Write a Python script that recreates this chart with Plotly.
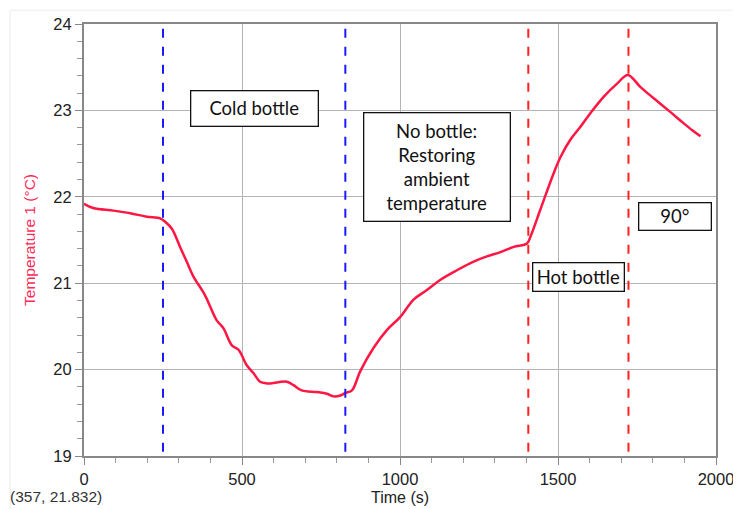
import plotly.graph_objects as go

# Time (s) and temperature (°C)
time_s = [0, 29, 93, 146, 198, 241, 257, 278, 304, 325, 346, 383, 420, 441, 468, 489, 515, 536, 557,
          579, 589, 642, 663, 689, 737, 769, 790, 811, 827, 848, 874, 916, 959, 1001, 1043, 1085,
          1128, 1180, 1233, 1275, 1318, 1360, 1402, 1413, 1444, 1486, 1508, 1539, 1571, 1603, 1645,
          1687, 1721, 1761, 1803, 1856, 1898, 1925, 1951]
temp_c = [21.92, 21.87, 21.84, 21.81, 21.77, 21.75, 21.71, 21.63, 21.42, 21.25, 21.08, 20.86, 20.57,
          20.48, 20.28, 20.23, 20.05, 19.96, 19.86, 19.84, 19.84, 19.86, 19.82, 19.76, 19.74, 19.72,
          19.69, 19.70, 19.73, 19.76, 19.98, 20.25, 20.46, 20.61, 20.81, 20.92, 21.04, 21.15, 21.25,
          21.31, 21.36, 21.42, 21.46, 21.54, 21.85, 22.27, 22.46, 22.66, 22.81, 22.97, 23.16, 23.31,
          23.41, 23.27, 23.14, 22.98, 22.85, 22.77, 22.70]

blue_marks = [250, 827]
red_marks = [1406, 1723]

labels = ["Cold bottle", "No bottle:<br>Restoring<br>ambient<br>temperature", "90°", "Hot bottle"]
label_x = [538, 1116, 1870, 1564]
label_y = [23.02, 22.34, 21.77, 21.07]
label_w = [126, 145, 71, 90]
label_h = [34, 107, 26, 27]

fig = go.Figure()
fig.add_trace(go.Scatter(x=time_s, y=temp_c, mode="lines",
                         line=dict(color="#ff1744", width=2.5), showlegend=False,
                         line_shape="spline"))

shapes = []
for xv in blue_marks:
    shapes.append(dict(type="line", xref="x", yref="paper", x0=xv, x1=xv, y0=0.01, y1=1,
                       line=dict(color="#1a1aff", width=2, dash="dash")))
for xv in red_marks:
    shapes.append(dict(type="line", xref="x", yref="paper", x0=xv, x1=xv, y0=0.01, y1=1,
                       line=dict(color="#ff2020", width=2, dash="dash")))
# faint outer frame
shapes.append(dict(type="rect", xref="paper", yref="paper", x0=-0.117, x1=1.06, y0=-0.2, y1=1.032,
                   line=dict(color="#ececec", width=1), layer="below"))
fig.update_layout(shapes=shapes)

for t, xv, yv, w, h in zip(labels, label_x, label_y, label_w, label_h):
    fig.add_annotation(x=xv, y=yv, xref="x", yref="y", text=t, showarrow=False,
                       font=dict(family="Lato", size=18.5, color="#111111"),
                       bgcolor="white", bordercolor="#111111", borderwidth=1.3,
                       width=w, height=h, borderpad=0, align="center", valign="middle")

fig.add_annotation(x=0, y=0, xref="paper", yref="paper", xanchor="left", yanchor="top",
                   xshift=-76, yshift=-30, text="(357, 21.832)", showarrow=False,
                   font=dict(family="Liberation Sans", size=15.5, color="#333333"))

fig.update_xaxes(range=[0, 2000], tickvals=[0, 500, 1000, 1500, 2000],
                 showgrid=True, gridcolor="#b4b4b4", gridwidth=1,
                 showline=True, linecolor="#888888", linewidth=2, mirror=True,
                 ticks="outside", ticklen=7, tickcolor="#888888",
                 minor=dict(dtick=100, ticks="outside", ticklen=5, tickcolor="#999999", showgrid=False),
                 tickfont=dict(family="Liberation Sans", size=16.5, color="#222222"),
                 title=dict(text="Time (s)", font=dict(family="Liberation Sans", size=16, color="#222222"),
                            standoff=5),
                 zeroline=False)
fig.update_yaxes(range=[19, 24], tickvals=[19, 20, 21, 22, 23, 24],
                 showgrid=True, gridcolor="#b4b4b4", gridwidth=1,
                 showline=True, linecolor="#888888", linewidth=2, mirror=True,
                 ticks="outside", ticklen=7, tickcolor="#888888",
                 minor=dict(dtick=0.2, ticks="outside", ticklen=5, tickcolor="#999999", showgrid=False),
                 tickfont=dict(family="Liberation Sans", size=16.5, color="#222222"),
                 title=dict(text="Temperature 1 (°C)",
                            font=dict(family="Liberation Sans", size=15.5, color="#ff2a55"), standoff=14),
                 zeroline=False)

fig.update_layout(width=733, height=501, margin=dict(l=76, r=25, t=16, b=53, autoexpand=False),
                  plot_bgcolor="white", paper_bgcolor="white")

fig.write_html("out.html")
